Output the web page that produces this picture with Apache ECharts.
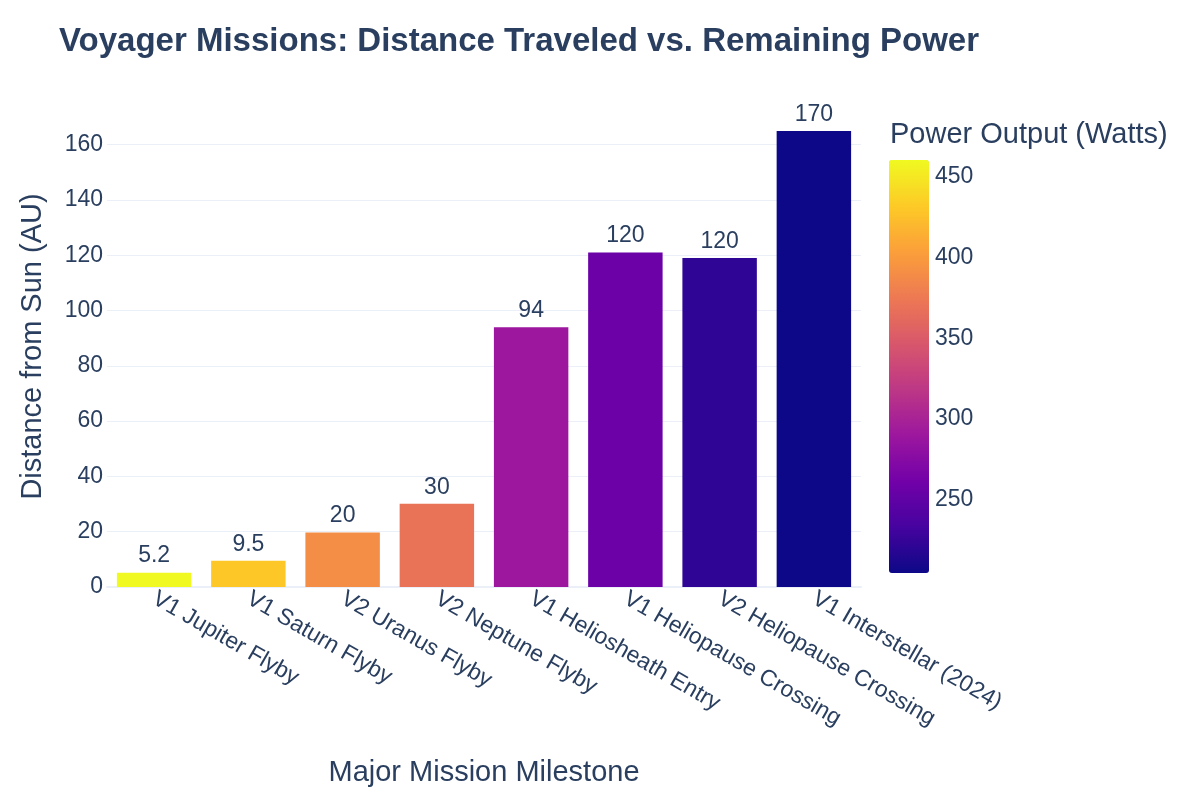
<!DOCTYPE html>
<html>
<head>
<meta charset="utf-8">
<script src="https://cdn.jsdelivr.net/npm/echarts@6/dist/echarts.min.js"></script>
<style>html,body{margin:0;padding:0;background:#fff}#chart{width:1200px;height:800px}</style>
</head>
<body>
<div id="chart"></div>
<script>
const categories = ["V1 Jupiter Flyby", "V1 Saturn Flyby", "V2 Uranus Flyby", "V2 Neptune Flyby", "V1 Heliosheath Entry", "V1 Heliopause Crossing", "V2 Heliopause Crossing", "V1 Interstellar (2024)"];
const distanceAU = [5.2, 9.5, 19.7, 30.1, 94, 121, 119, 165];
const powerWatts = [460, 430, 390, 370, 290, 257, 222, 205];
const colorbarTicks = [250, 300, 350, 400, 450];
const plasma = ['#0d0887', '#46039f', '#7201a8', '#9c179e', '#bd3786', '#d8576b', '#ed7953', '#fb9f3a', '#fdca26', '#f0f921'];

const FONT = "'Liberation Sans', Arial, sans-serif";
const TXT = '#2a3f5f';
const GRID = '#ebf0f8';

const barData = categories.map((c, i) => [c, distanceAU[i], powerWatts[i]]);
const pMin = Math.min(...powerWatts), pMax = Math.max(...powerWatts);

const chart = echarts.init(document.getElementById('chart'), null, {renderer: 'canvas'});
chart.setOption({
  backgroundColor: '#fff',
  animation: false,
  textStyle: {fontFamily: FONT},
  title: [
    {text: 'Voyager Missions: Distance Traveled vs. Remaining Power', left: 59, top: 25, padding: 0,
     textStyle: {fontFamily: FONT, fontSize: 33, fontWeight: 'bold', color: TXT, lineHeight: 33}},
    {text: 'Power Output (Watts)', left: 890, top: 120, padding: 0,
     textStyle: {fontFamily: FONT, fontSize: 29, fontWeight: 'normal', color: TXT, lineHeight: 29}}
  ],
  grid: [
    {left: 107, right: 339, top: 106, bottom: 213, containLabel: false},
    {left: 889, width: 40, top: 160, height: 413, containLabel: false}
  ],
  xAxis: [
    {type: 'category', gridIndex: 0, data: categories,
     axisLine: {show: true, lineStyle: {color: GRID, width: 2}},
     axisTick: {show: false},
     axisLabel: {rotate: -30, margin: 10, fontSize: 23, color: TXT, fontFamily: FONT, interval: 0},
     name: 'Major Mission Milestone', nameLocation: 'middle', nameGap: 171,
     nameTextStyle: {fontSize: 29, color: TXT, fontFamily: FONT}},
    {type: 'value', gridIndex: 1, show: false, min: 0, max: 1}
  ],
  yAxis: [
    {type: 'value', gridIndex: 0, min: 0, max: 174, interval: 20,
     axisLine: {show: false}, axisTick: {show: false},
     axisLabel: {fontSize: 23, color: TXT, fontFamily: FONT, margin: 4, showMaxLabel: false},
     splitLine: {show: true, showMaxLine: false, lineStyle: {color: GRID, width: 1}},
     name: 'Distance from Sun (AU)', nameLocation: 'middle', nameGap: 60,
     nameTextStyle: {fontSize: 29, color: TXT, fontFamily: FONT}},
    {type: 'value', gridIndex: 1, min: pMin, max: pMax, position: 'right',
     axisLine: {show: false}, axisTick: {show: false}, splitLine: {show: false},
     axisLabel: {customValues: colorbarTicks, fontSize: 23, color: TXT, fontFamily: FONT, margin: 6}}
  ],
  visualMap: {
    type: 'continuous', min: pMin, max: pMax, dimension: 2, seriesIndex: 0,
    left: 889, top: 160, itemWidth: 40, itemHeight: 413, padding: 0,
    calculable: false, realtime: false, showLabel: false, text: null,
    inRange: {color: plasma}, hoverLink: false
  },
  series: [{
    type: 'bar', xAxisIndex: 0, yAxisIndex: 0,
    data: barData, encode: {x: 0, y: 1},
    barWidth: '79%',
    label: {show: true, position: 'top', distance: 5, fontSize: 23, color: TXT, fontFamily: FONT,
      formatter: p => String(Number(Number(p.value[1]).toPrecision(2)))}
  }]
});
</script>
</body>
</html>
